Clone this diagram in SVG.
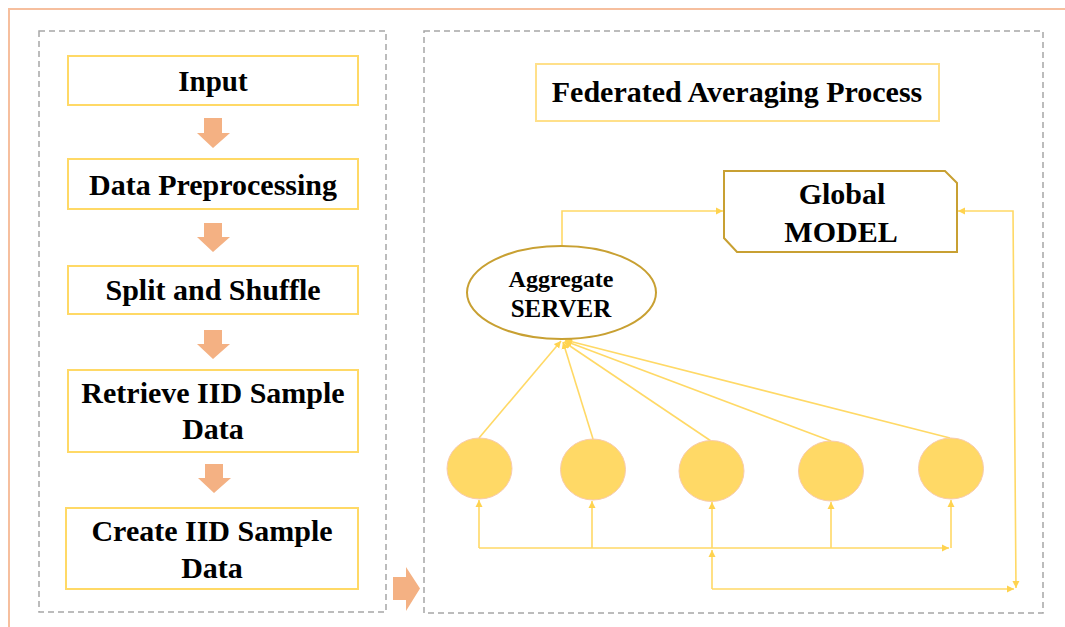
<svg xmlns="http://www.w3.org/2000/svg" width="1065" height="627" viewBox="0 0 1065 627">
  <style>
    .t { font-family: "Liberation Serif", "Times New Roman", serif; font-weight: bold; fill: #000; text-anchor: middle; }
    .box { fill: #fff; stroke: #FFD966; stroke-width: 2; }
    .dash { fill: none; stroke: #A6A6A6; stroke-width: 1.5; stroke-dasharray: 6 4; }
    .gold { fill: #fff; stroke: #C8A032; stroke-width: 2; }
    .client { fill: #FFD966; stroke: #F8CBAD; stroke-width: 1; }
    .bigarrow { fill: #F4B183; }
    .conn { fill: none; stroke: #FFD966; stroke-width: 1.6; }
  </style>
  <defs>
    <marker id="ah" markerUnits="userSpaceOnUse" markerWidth="8" markerHeight="8" refX="7" refY="4" orient="auto-start-reverse">
      <path d="M0,0.5 L7,4 L0,7.5 z" fill="#FFD34F"/>
    </marker>
  </defs>
  <rect width="1065" height="627" fill="#fff"/>
  <!-- outer border -->
  <path d="M9,627 V9 H1065" fill="none" stroke="#F6BF9E" stroke-width="2"/>
  <!-- dashed containers -->
  <rect class="dash" x="39" y="31" width="347" height="581"/>
  <rect class="dash" x="424" y="31" width="619" height="582"/>

  <!-- pipeline arrows -->
  <g id="pipeline-arrows">
    <path class="bigarrow" d="M204,118 H222 V133 H230 L213,148 L197,133 H204 z"/>
    <path class="bigarrow" d="M204,223 H222 V237 H230 L213,252 L197,237 H204 z"/>
    <path class="bigarrow" d="M204,330 H222 V344 H230 L213,359 L197,344 H204 z"/>
    <path class="bigarrow" d="M205,464 H223 V478 H231 L214,493 L198,478 H205 z"/>
    <path class="bigarrow" d="M393,577 H406 V567 L420,588.5 L406,611 V600 H393 z"/>
  </g>

  <g id="node-input">
    <rect class="box" x="68" y="56" width="290" height="49"/>
    <text class="t" x="213" y="91" font-size="29">Input</text>
  </g>
  <g id="node-preprocessing">
    <rect class="box" x="68" y="159" width="290" height="50"/>
    <text class="t" x="213" y="195" font-size="30">Data Preprocessing</text>
  </g>
  <g id="node-split">
    <rect class="box" x="68" y="266" width="290" height="48"/>
    <text class="t" x="213" y="300" font-size="30">Split and Shuffle</text>
  </g>
  <g id="node-retrieve">
    <rect class="box" x="68" y="370" width="290" height="82"/>
    <text class="t" x="213" y="403" font-size="30">Retrieve IID Sample</text>
    <text class="t" x="213" y="439" font-size="30">Data</text>
  </g>
  <g id="node-create">
    <rect class="box" x="66" y="508" width="292" height="81"/>
    <text class="t" x="212" y="541" font-size="30">Create IID Sample</text>
    <text class="t" x="212" y="578" font-size="30">Data</text>
  </g>

  <g id="node-title">
    <rect class="box" x="536" y="64" width="403" height="57" style="stroke:#FFE08A"/>
    <text class="t" x="737" y="102" font-size="30">Federated Averaging Process</text>
  </g>

  <g id="connectors">
    <path class="conn" d="M562,246 V211 H723" marker-end="url(#ah)"/>
    <path class="conn" d="M958,211 H1013 L1016,588" marker-start="url(#ah)" marker-end="url(#ah)"/>
    <path class="conn" d="M479,438 L561,341" marker-end="url(#ah)"/>
    <path class="conn" d="M593,439 L563,342" marker-end="url(#ah)"/>
    <path class="conn" d="M711,441 L564,342" marker-end="url(#ah)"/>
    <path class="conn" d="M831,441 L565,341" marker-end="url(#ah)"/>
    <path class="conn" d="M950,438 L565,340" marker-end="url(#ah)"/>
    <path class="conn" d="M479,548 H949" marker-end="url(#ah)"/>
    <path class="conn" d="M479,548 V500" marker-end="url(#ah)"/>
    <path class="conn" d="M592,548 V501" marker-end="url(#ah)"/>
    <path class="conn" d="M712,548 V502" marker-end="url(#ah)"/>
    <path class="conn" d="M831,548 V502" marker-end="url(#ah)"/>
    <path class="conn" d="M951,548 V500" marker-end="url(#ah)"/>
    <path class="conn" d="M712,589 V550" marker-end="url(#ah)"/>
    <path class="conn" d="M712,589 H1014" marker-end="url(#ah)"/>
  </g>

  <g id="node-global">
    <path class="gold" d="M724,171 H945 L957,183 V252 H737 L724,238 z"/>
    <text class="t" x="842" y="204" font-size="30">Global</text>
    <text class="t" x="841" y="242" font-size="30">MODEL</text>
  </g>
  <g id="node-aggregate">
    <ellipse class="gold" cx="561.5" cy="292.5" rx="94.5" ry="46.5"/>
    <text class="t" x="561" y="287" font-size="24">Aggregate</text>
    <text class="t" x="561" y="317" font-size="25">SERVER</text>
  </g>
  <g id="node-client-1"><ellipse class="client" cx="479.5" cy="468.5" rx="32.5" ry="30.5"/></g>
  <g id="node-client-2"><ellipse class="client" cx="593" cy="469.5" rx="32.5" ry="30.5"/></g>
  <g id="node-client-3"><ellipse class="client" cx="711.5" cy="471" rx="32.5" ry="30.5"/></g>
  <g id="node-client-4"><ellipse class="client" cx="831" cy="471" rx="32.5" ry="30"/></g>
  <g id="node-client-5"><ellipse class="client" cx="951" cy="468.5" rx="32.5" ry="30.5"/></g>
</svg>
